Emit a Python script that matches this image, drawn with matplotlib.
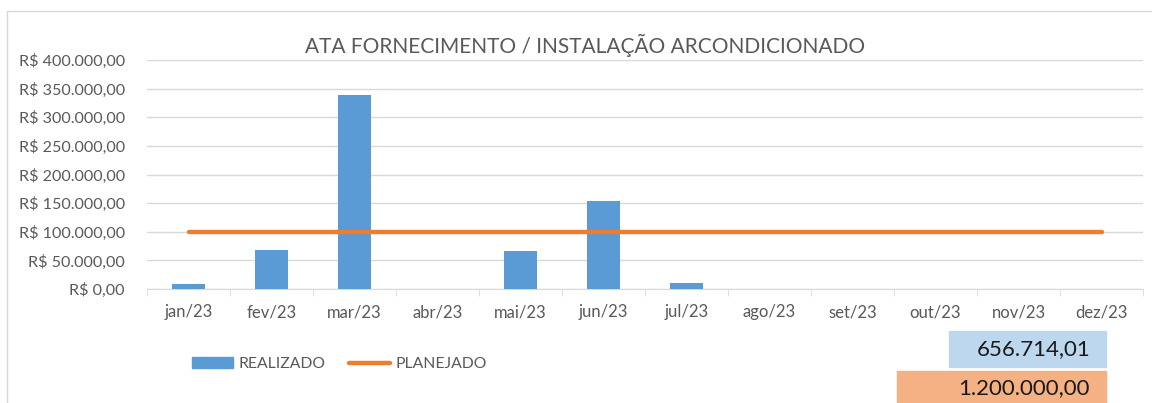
import matplotlib
matplotlib.use('Agg')
import matplotlib.pyplot as plt
from matplotlib.patches import Rectangle, Patch
from matplotlib.lines import Line2D
import numpy as np

plt.rcParams['font.family'] = ['Lato', 'DejaVu Sans']

meses = ['jan/23', 'fev/23', 'mar/23', 'abr/23', 'mai/23', 'jun/23',
         'jul/23', 'ago/23', 'set/23', 'out/23', 'nov/23', 'dez/23']
realizado = [9300, 68500, 339000, 0, 66800, 154500, 11000, 0, 0, 0, 0, 0]
planejado = [100000] * 12
total_realizado = 656714.01
total_planejado = 1200000.00

titulo = 'ATA FORNECIMENTO / INSTALAÇÃO ARCONDICIONADO'

azul = '#5B9BD5'
laranja = '#ED7D31'
cinza = '#595959'


def brl(v):
    # formato brasileiro 1.234,56
    s = f'{v:,.2f}'
    return s.replace(',', 'X').replace('.', ',').replace('X', '.')


W, H = 1152, 403
fig = plt.figure(figsize=(W / 100, H / 100), dpi=100)

# moldura do grafico
fig.add_artist(Rectangle((7 / W, -0.1), 1.2, 1 - 11 / H + 0.1, transform=fig.transFigure,
                         fill=False, edgecolor='#D9D9D9', linewidth=1))

ax = fig.add_axes([147 / W, 1 - 289 / H, 996 / W, 229 / H])
x = np.arange(len(meses))

ax.bar(x, realizado, width=0.4, color=azul, zorder=3)
ax.plot(x, planejado, color=laranja, linewidth=3.2, solid_capstyle='round', zorder=4)

ax.set_xlim(-0.5, 11.5)
ax.set_ylim(0, 400000)
ax.set_yticks(np.arange(0, 400001, 50000))
ax.set_yticklabels(['R$ ' + brl(v) for v in np.arange(0, 400001, 50000)])
ax.grid(axis='y', color='#D9D9D9', linewidth=1, zorder=0)
ax.tick_params(axis='y', length=0, pad=16, labelsize=11.6, labelcolor=cinza)

ax.set_xticks(x)
ax.set_xticklabels(meses)
ax.set_xticks(np.arange(-0.5, 12, 1), minor=True)
ax.tick_params(axis='x', which='major', length=0, pad=11, labelsize=12, labelcolor=cinza)
ax.tick_params(axis='x', which='minor', length=5, color='#D9D9D9')

for s in ['top', 'right', 'left']:
    ax.spines[s].set_visible(False)
ax.spines['bottom'].set_color('#D9D9D9')

fig.text(585 / W, 1 - 45 / H, titulo, ha='center', va='center', fontsize=15, color=cinza)

handles = [Patch(color=azul), Line2D([0], [0], color=laranja, linewidth=3.2, solid_capstyle='round')]
fig.legend(handles, ['REALIZADO', 'PLANEJADO'], loc='center left',
           bbox_to_anchor=(192 / W, 1 - 364 / H), ncol=2, frameon=False,
           borderaxespad=0, borderpad=0,
           fontsize=11.3, labelcolor=cinza, handlelength=2.6, handletextpad=0.35,
           columnspacing=1.5)

# caixas de totais
fig.add_artist(Rectangle((949 / W, 1 - 367 / H), 157 / W, 36 / H,
                         transform=fig.transFigure, color='#BDD7EE'))
fig.add_artist(Rectangle((897 / W, 1 - 410 / H), 209 / W, 39 / H,
                         transform=fig.transFigure, color='#F4B183'))
fig.text(1090 / W, 1 - 349 / H, brl(total_realizado), ha='right', va='center',
         fontsize=16, color='#1a1a1a')
fig.text(1090 / W, 1 - 388 / H, brl(total_planejado), ha='right', va='center',
         fontsize=16, color='#1a1a1a')

fig.savefig('out.png', dpi=100)
